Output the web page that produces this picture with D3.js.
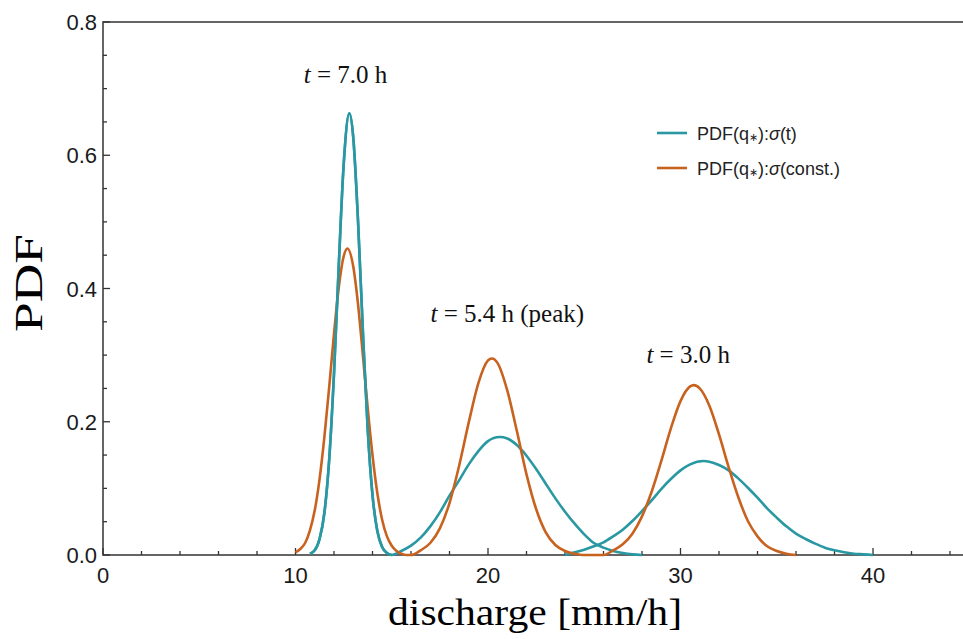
<!DOCTYPE html>
<html lang="en">
<head>
  <meta charset="UTF-8" />
  <title>PDF of discharge</title>
  <style>
    html, body { margin: 0; background: #fff; }
    svg { display: block; }
    .tick-label { font-family: "Liberation Sans", Arial, sans-serif; font-size: 22px; fill: #1a1a1a; }
    .note { font-family: "Liberation Serif", "Times New Roman", serif; font-size: 25px; fill: #111; }
    .legend text { font-family: "Liberation Sans", Arial, sans-serif; font-size: 18px; fill: #222; }
  </style>
</head>
<body>
  <svg id="chart" width="963" height="639"></svg>

  <script src="https://cdn.jsdelivr.net/npm/d3@7/dist/d3.min.js"></script>
  <script>
    // ticks
    const xMajor = [0, 10, 20, 30, 40];
    const yMajor = [0, 0.2, 0.4, 0.6, 0.8];

    // PDF with time dependent sigma  [discharge, pdf]
    const sigmaT = [
      [10.75,0.002],[11.0,0.007],[11.25,0.024],[11.5,0.063],[11.75,0.143],[12.0,0.272],
      [12.25,0.436],[12.5,0.585],[12.8,0.663],[13.0,0.627],[13.25,0.500],[13.5,0.336],
      [13.75,0.189],[14.0,0.090],[14.25,0.036],[14.5,0.012],[14.75,0.003],[15.0,0.0],
      [15.5,0.006],[16.0,0.014],[16.5,0.026],[17.0,0.043],[17.5,0.064],[18.0,0.089],
      [18.5,0.112],[19.0,0.136],[19.5,0.156],[20.0,0.171],[20.6,0.177],[21.0,0.175],
      [21.5,0.165],[22.0,0.149],[22.5,0.129],[23.0,0.107],[23.5,0.085],[24.0,0.065],
      [24.5,0.047],[25.0,0.031],[25.5,0.018],[26.0,0.011],[26.5,0.006],[27.0,0.003],
      [27.5,0.001],[28.0,0.0]
    ];
    const sigmaT3 = [
      [24.0,0.0],[24.5,0.004],[25.0,0.008],[25.5,0.013],[26.0,0.019],[26.5,0.028],
      [27.0,0.038],[27.5,0.051],[28.0,0.066],[28.5,0.082],[29.0,0.099],[29.5,0.114],
      [30.0,0.127],[30.5,0.136],[31.2,0.141],[31.5,0.140],[32.0,0.135],[32.5,0.127],
      [33.0,0.115],[33.5,0.101],[34.0,0.086],[34.5,0.070],[35.0,0.056],[35.5,0.043],
      [36.0,0.032],[36.5,0.024],[37.0,0.017],[37.5,0.011],[38.0,0.007],[38.5,0.004],
      [39.0,0.002],[39.5,0.001],[40.0,0.0]
    ];

    // PDF with constant sigma
    const sigmaConst = [
      [10.0,0.004],[10.25,0.009],[10.5,0.018],[10.75,0.037],[11.0,0.067],[11.25,0.114],
      [11.5,0.177],[11.75,0.252],[12.0,0.332],[12.25,0.402],[12.5,0.448],[12.7,0.460],
      [13.0,0.433],[13.25,0.376],[13.5,0.300],[13.75,0.221],[14.0,0.150],[14.25,0.093],
      [14.5,0.053],[14.75,0.028],[15.0,0.014],[15.25,0.006],[15.5,0.002],[15.75,0.0],
      [16.0,0.0],[16.5,0.007],[17.0,0.018],[17.5,0.040],[18.0,0.078],[18.5,0.134],
      [19.0,0.199],[19.5,0.258],[20.0,0.292],[20.2,0.295],[20.5,0.288],[21.0,0.247],
      [21.5,0.186],[22.0,0.121],[22.5,0.069],[23.0,0.034],[23.5,0.015],[24.0,0.006],
      [24.5,0.002],[25.0,0.0],
      [26.0,0.0],[26.5,0.007],[27.0,0.016],[27.5,0.032],[28.0,0.058],[28.5,0.095],
      [29.0,0.141],[29.5,0.190],[30.0,0.231],[30.5,0.253],[30.7,0.255],[31.0,0.250],
      [31.5,0.224],[32.0,0.181],[32.5,0.132],[33.0,0.087],[33.5,0.051],[34.0,0.028],
      [34.5,0.013],[35.0,0.006],[35.5,0.002],[36.0,0.0]
    ];

    const notes = ["= 7.0 h", "= 5.4 h (peak)", "= 3.0 h"];
    const noteAt = [[12.6, 0.708], [21.0, 0.350], [30.4, 0.288]];

    const teal = "#2a98a2", orange = "#c8621f";

    const svg = d3.select("#chart");
    const plotLeft = 103, plotTop = 22, plotBottom = 555;

    const x = d3.scaleLinear().domain([0, 45]).range([plotLeft, plotLeft + 45 * 19.25]);
    const y = d3.scaleLinear().domain([0, 0.8]).range([plotBottom, plotTop]);

    // frame
    svg.append("path")
      .attr("d", `M963,${plotTop}H${plotLeft}V${plotBottom}H963`)
      .attr("fill", "none").attr("stroke", "#333").attr("stroke-width", 1.5);

    // x ticks (inward)
    const xTicks = d3.range(0, 46, 2);
    svg.append("g").selectAll("line").data(xTicks).enter().append("line")
      .attr("x1", d => x(d)).attr("x2", d => x(d))
      .attr("y1", plotBottom).attr("y2", d => plotBottom - (d % 10 === 0 ? 7 : 4))
      .attr("stroke", "#333").attr("stroke-width", 1.3);
    svg.append("g").selectAll("text").data(xMajor).enter().append("text")
      .attr("class", "tick-label")
      .attr("x", d => x(d)).attr("y", 583)
      .attr("text-anchor", "middle")
      .text(d => d);

    // y ticks
    const yTicks = d3.range(0, 17).map(i => i * 0.05);
    svg.append("g").selectAll("line").data(yTicks).enter().append("line")
      .attr("x1", plotLeft).attr("x2", (d, i) => plotLeft + (i % 4 === 0 ? 7 : 4))
      .attr("y1", d => y(d)).attr("y2", d => y(d))
      .attr("stroke", "#333").attr("stroke-width", 1.3);
    svg.append("g").selectAll("text").data(yMajor).enter().append("text")
      .attr("class", "tick-label")
      .attr("x", 97).attr("y", d => y(d) + 8)
      .attr("text-anchor", "end")
      .text(d => d.toFixed(1));

    // axis titles
    svg.append("text")
      .attr("x", 535).attr("y", 625)
      .attr("text-anchor", "middle")
      .style("font-family", "'Liberation Serif', 'Times New Roman', serif")
      .style("font-size", "38px")
      .attr("textLength", 294).attr("lengthAdjust", "spacingAndGlyphs")
      .text("discharge [mm/h]");

    svg.append("text")
      .attr("transform", "translate(42,283) rotate(-90)")
      .attr("text-anchor", "middle")
      .style("font-family", "'Liberation Serif', 'Times New Roman', serif")
      .style("font-size", "40px")
      .attr("textLength", 98).attr("lengthAdjust", "spacingAndGlyphs")
      .text("PDF");

    // curves
    const line = d3.line()
      .x(d => x(d[0])).y(d => y(d[1]))
      .curve(d3.curveMonotoneX);

    const plot = svg.append("g");
    [sigmaT, sigmaT3].forEach(s => plot.append("path")
      .attr("d", line(s)).attr("fill", "none")
      .attr("stroke", teal).attr("stroke-width", 2.6));
    plot.append("path")
      .attr("d", line(sigmaConst)).attr("fill", "none")
      .attr("stroke", orange).attr("stroke-width", 2.6);
    // teal narrow peak drawn last sits on top in the reference
    plot.append("path")
      .attr("d", line(sigmaT.filter(d => d[0] <= 15)))
      .attr("fill", "none").attr("stroke", teal).attr("stroke-width", 2.6);

    // annotations
    notes.forEach((n, i) => {
      const t = svg.append("text").attr("class", "note")
        .attr("x", x(noteAt[i][0])).attr("y", y(noteAt[i][1]))
        .attr("text-anchor", "middle");
      t.append("tspan").style("font-style", "italic").text("t");
      t.append("tspan").text(" " + n);
    });

    // legend
    const legend = svg.append("g").attr("class", "legend")
      .attr("transform", "translate(657,133)");
    const legendItems = [
      { color: teal, tail: "(t)" },
      { color: orange, tail: "(const.)" }
    ];
    legendItems.forEach((it, i) => {
      const row = legend.append("g").attr("transform", `translate(0,${i * 35})`);
      row.append("line").attr("x1", 0).attr("x2", 30)
        .attr("stroke", it.color).attr("stroke-width", 2.6);
      const t = row.append("text").attr("x", 40).attr("y", 6.5);
      t.append("tspan").text("PDF(q");
      t.append("tspan").style("font-size", "11px").attr("dy", 1).text("\u2217");
      t.append("tspan").attr("dy", -1).text("):");
      t.append("tspan").style("font-style", "italic").text("\u03c3");
      t.append("tspan").text(it.tail);
    });
  </script>
</body>
</html>
